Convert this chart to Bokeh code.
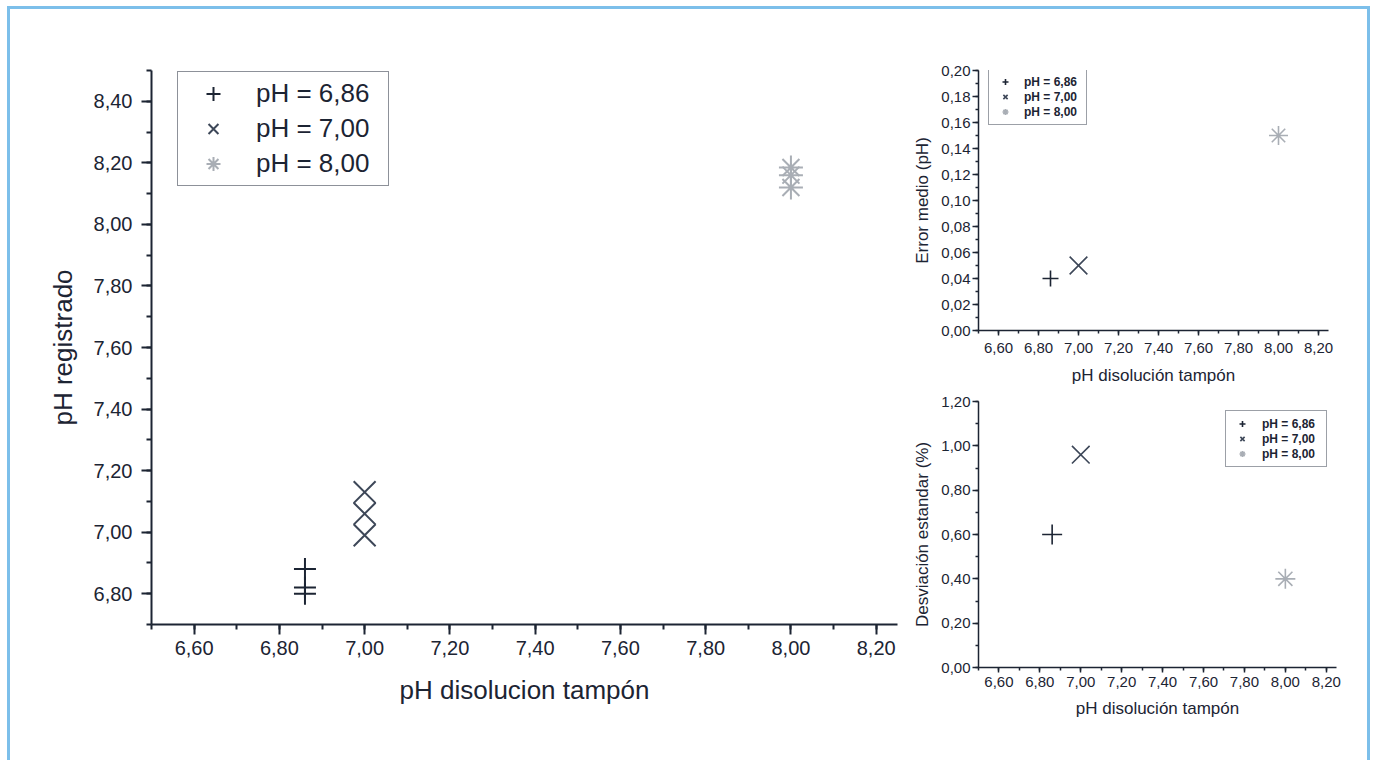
import numpy as np
from bokeh.plotting import figure
from bokeh.models import (FixedTicker, CustomJSTickFormatter, Legend, LegendItem,
                          ColumnDataSource, Range1d)
from bokeh.layouts import row, column
from bokeh.embed import file_html
from bokeh.resources import INLINE

# ---------------- data ----------------
series_labels = ["pH = 6,86", "pH = 7,00", "pH = 8,00"]
buffer_ph = [6.86, 7.00, 8.00]

# main chart: individual recorded pH readings per buffer
reg_x_686 = [6.86, 6.86, 6.86]
reg_y_686 = [6.88, 6.82, 6.80]
reg_x_700 = [7.00, 7.00, 7.00]
reg_y_700 = [7.13, 7.06, 6.99]
reg_x_800 = [8.00, 8.00, 8.00]
reg_y_800 = [8.185, 8.16, 8.12]

# small charts
error_medio = [0.04, 0.05, 0.15]
desviacion = [0.60, 0.96, 0.40]

# axes / ticks
x_ticks = [6.6, 6.8, 7.0, 7.2, 7.4, 7.6, 7.8, 8.0, 8.2]
main_y_ticks = [6.8, 7.0, 7.2, 7.4, 7.6, 7.8, 8.0, 8.2, 8.4]
err_y_ticks = [0.0, 0.02, 0.04, 0.06, 0.08, 0.10, 0.12, 0.14, 0.16, 0.18, 0.20]
desv_y_ticks = [0.0, 0.2, 0.4, 0.6, 0.8, 1.0, 1.2]

main_x_title = "pH disolucion tampón"
main_y_title = "pH registrado"
small_x_title = "pH disolución tampón"
err_y_title = "Error medio (pH)"
desv_y_title = "Desviación estandar (%)"

# ---------------- style ----------------
FONT = "Liberation Sans"
INK = "#1c2433"
COL_PLUS = "#1c2433"
COL_X = "#3d4758"
COL_AST = "#a9aeb5"
BLUE = "#7cbfea"
markers = ["cross", "x", "asterisk"]
colors = [COL_PLUS, COL_X, COL_AST]

fmt = CustomJSTickFormatter(code="return tick.toFixed(2).replace('.', ',');")


def minor_between(ticks, lo, hi):
    step = (ticks[1] - ticks[0]) / 2.0
    vals = np.arange(ticks[0] - step * 4, ticks[-1] + step * 4, step)
    return [float(round(v, 4)) for v in vals if lo - 1e-9 <= v <= hi + 1e-9]


def style_axis(ax, ticks, minor, tick_size, title_size, lw, major_out, minor_out,
               standoff, title_standoff):
    ax.ticker = FixedTicker(ticks=ticks, minor_ticks=minor)
    ax.formatter = fmt
    ax.axis_line_color = INK
    ax.axis_line_width = lw
    ax.major_tick_line_color = INK
    ax.major_tick_line_width = lw
    ax.minor_tick_line_color = INK
    ax.minor_tick_line_width = lw
    ax.major_tick_in = 0
    ax.major_tick_out = major_out
    ax.minor_tick_in = 0
    ax.minor_tick_out = minor_out
    ax.major_label_text_font = FONT
    ax.major_label_text_font_size = f"{tick_size}px"
    ax.major_label_text_color = INK
    ax.major_label_standoff = standoff
    ax.axis_label_text_font = FONT
    ax.axis_label_text_font_size = f"{title_size}px"
    ax.axis_label_text_font_style = "normal"
    ax.axis_label_text_color = INK
    ax.axis_label_standoff = title_standoff


def base_fig(fw, fh, bl, br, bt, bb, xr, yr):
    f = figure(frame_width=fw, frame_height=fh, min_border_left=bl,
               min_border_right=br, min_border_top=bt, min_border_bottom=bb,
               x_range=Range1d(*xr), y_range=Range1d(*yr),
               output_backend="svg", toolbar_location=None)
    f.grid.visible = False
    f.outline_line_color = None
    f.background_fill_color = "white"
    f.border_fill_color = "white"
    return f


# ---------------- main chart ----------------
p = base_fig(746, 554, 141, 9, 61, 134, (6.5, 8.25), (6.7, 8.5))
p.xaxis.axis_label = main_x_title
p.yaxis.axis_label = main_y_title
style_axis(p.xaxis[0], x_ticks, minor_between(x_ticks, 6.5, 8.25), 20, 26, 2, 10, 5, 6, 17)
style_axis(p.yaxis[0], main_y_ticks, minor_between(main_y_ticks, 6.7, 8.5), 20, 26, 2, 10, 5, 9, 13)

main_sets = [(reg_x_686, reg_y_686), (reg_x_700, reg_y_700), (reg_x_800, reg_y_800)]
main_sizes = [22, 31, 24]
items = []
for (xs, ys), m, c, lab, s in zip(main_sets, markers, colors, series_labels, main_sizes):
    src = ColumnDataSource(dict(x=xs, y=ys))
    r = p.scatter("x", "y", source=src, marker=m, size=s, line_color=c,
                  line_width=2, fill_color=None)
    items.append(LegendItem(label=lab, renderers=[r]))

leg = Legend(items=items, location=(26, 438), margin=0, padding=4,
             glyph_width=62, glyph_height=35, label_height=35, spacing=-3,
             label_standoff=12, label_width=128,
             label_text_font=FONT, label_text_font_size="26px",
             label_text_color=INK, border_line_color=INK, border_line_width=1.5,
             background_fill_color="white", background_fill_alpha=1.0)
p.add_layout(leg)


# ---------------- small charts ----------------
def small_chart(yvals, yticks, yr, ytitle, fw, fh, bl, br, bt, bb, msizes, leg_loc,
                gw, lstand, lwidth, xstand, xtstand):
    f = base_fig(fw, fh, bl, br, bt, bb, (6.5, 8.25), yr)
    f.xaxis.axis_label = small_x_title
    f.yaxis.axis_label = ytitle
    style_axis(f.xaxis[0], x_ticks, minor_between(x_ticks, 6.5, 8.25), 15, 17, 1.5, 5, 3,
               xstand, xtstand)
    style_axis(f.yaxis[0], yticks, minor_between(yticks, yr[0], yr[1]), 15, 17, 1.5, 6, 3, 2, 6)
    its = []
    for xv, yv, m, c, lab, s in zip(buffer_ph, yvals, markers, colors, series_labels, msizes):
        src = ColumnDataSource(dict(x=[xv], y=[yv]))
        r = f.scatter("x", "y", source=src, marker=m, size=s, line_color=c,
                      line_width=1.6, fill_color=None)
        its.append(LegendItem(label=lab, renderers=[r]))
    lg = Legend(items=its, location=leg_loc, margin=0, padding=5,
                glyph_width=gw, glyph_height=15, label_height=15, spacing=0,
                label_standoff=lstand, label_width=lwidth,
                label_text_font=FONT, label_text_font_size="12px",
                label_text_font_style="bold", label_text_color=INK,
                border_line_color="#3a4250", border_line_width=1,
                background_fill_color="white", background_fill_alpha=1.0)
    f.add_layout(lg)
    return f


p_err = small_chart(error_medio, err_y_ticks, (0.0, 0.20), err_y_title,
                    350, 260, 72, 39, 61, 55, [16, 25, 19], (10, 205), 22, 8, 57, 7, 10)
p_desv = small_chart(desviacion, desv_y_ticks, (0.0, 1.20), desv_y_title,
                     358, 266, 69, 34, 14, 93, [20, 25, 20], (247, 200), 22, 9, 59, 4, 9)

layout = row(p, column(p_err, p_desv),
             styles={"border-top": f"3px solid {BLUE}",
                     "border-left": f"3px solid {BLUE}",
                     "border-right": f"3px solid {BLUE}",
                     "margin-left": "7px", "margin-top": "6px",
                     "background-color": "white"})

open("out.html", "w").write(file_html(layout, INLINE))
